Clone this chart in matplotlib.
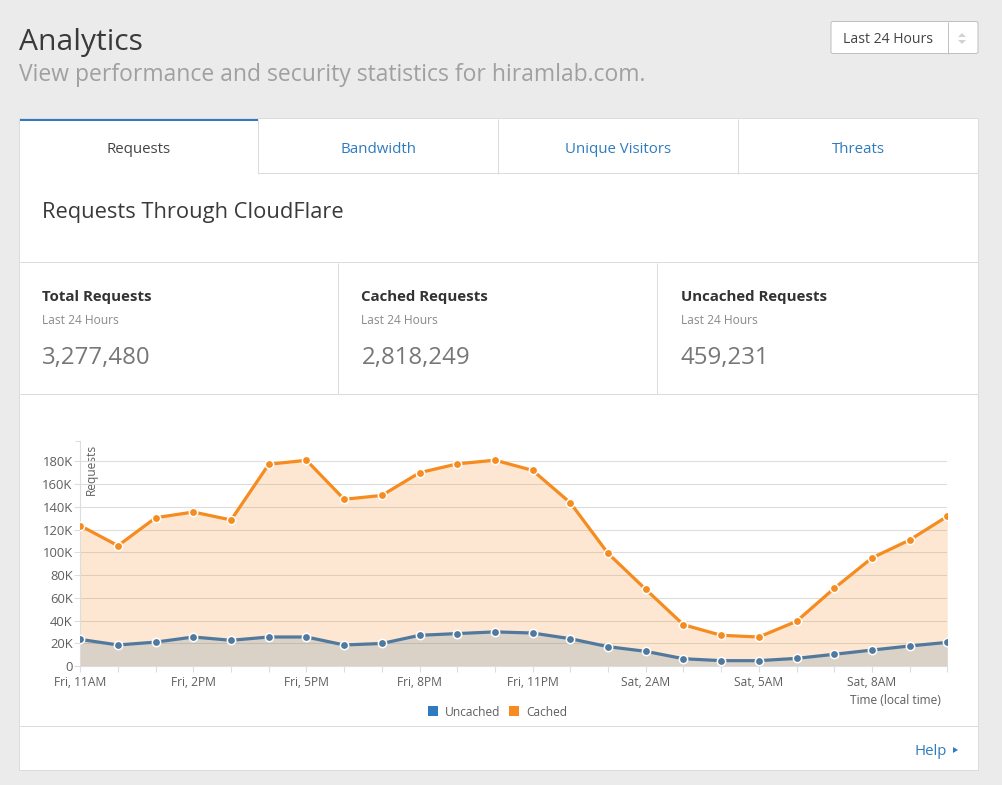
import matplotlib
matplotlib.use("Agg")
import matplotlib.pyplot as plt
from matplotlib.patches import Rectangle, Polygon, FancyBboxPatch

plt.rcParams['font.family'] = ['Open Sans', 'DejaVu Sans']

hours = list(range(24))
cached = [123.4, 105.8, 130.4, 135.4, 128.4, 177.4, 180.9, 146.6, 150, 170, 177.7, 181,
          172, 143.5, 99, 67.4, 36.3, 27, 25.5, 39.3, 68.3, 95, 110.8, 131.6]
uncached = [23.4, 18.5, 21, 25.5, 22.6, 25.5, 25.5, 18.5, 19.8, 27, 28.5, 30,
            29, 24, 17, 12.9, 6.4, 4.7, 4.7, 6.7, 10.3, 14, 17.6, 20.8]
y_ticks = [0, 20, 40, 60, 80, 100, 120, 140, 160, 180]
y_labels = ['0', '20K', '40K', '60K', '80K', '100K', '120K', '140K', '160K', '180K']
x_label_hours = [0, 3, 6, 9, 12, 15, 18, 21]
x_labels = ['Fri, 11AM', 'Fri, 2PM', 'Fri, 5PM', 'Fri, 8PM', 'Fri, 11PM', 'Sat, 2AM', 'Sat, 5AM', 'Sat, 8AM']
tabs = ['Requests', 'Bandwidth', 'Unique Visitors', 'Threats']
stat_titles = ['Total Requests', 'Cached Requests', 'Uncached Requests']
stat_values = ['3,277,480', '2,818,249', '459,231']

W, H = 1002, 785
BG = '#ebebeb'; LINE = '#dcdcdc'; BLUE = '#2f7bbf'; ORANGE = '#f68b1f'; STEEL = '#51799e'
DARK = '#333333'; MID = '#5f5f5f'; GREY = '#8a8a8a'
px = 0.72

fig = plt.figure(figsize=(W / 100, H / 100), dpi=100, facecolor=BG)
bg = fig.add_axes([0, 0, 1, 1])
bg.set_xlim(0, W); bg.set_ylim(H, 0); bg.axis('off')

def rect(x0, y0, x1, y1, fc='white', ec='none', lw=0, z=1):
    bg.add_patch(Rectangle((x0, y0), x1 - x0, y1 - y0, fc=fc, ec=ec, lw=lw, zorder=z))

def hline(y, x0, x1, c=LINE):
    bg.plot([x0, x1], [y, y], color=c, lw=px, zorder=2, solid_capstyle='butt')

def vline(x, y0, y1, c=LINE):
    bg.plot([x, x], [y0, y1], color=c, lw=px, zorder=2, solid_capstyle='butt')

def txt(x, y, s, size, color=DARK, ha='left', **kw):
    bg.text(x, y, s, fontsize=size * px, color=color, ha=ha, va='center', zorder=3, **kw)

# header
txt(19, 42.5, 'Analytics', 30, '#3a3a3a')
txt(19, 75, 'View performance and security statistics for hiramlab.com.', 22.9, '#a0a0a0')
bg.add_patch(FancyBboxPatch((831, 21.5), 147, 32, boxstyle='round,pad=0,rounding_size=2',
                            fc='white', ec='#c0c0c0', lw=px, zorder=1))
vline(948.5, 22, 53.5, '#c0c0c0')
txt(843, 39.5, 'Last 24 Hours', 14, '#444444')
bg.add_patch(Polygon([[958, 37], [966, 37], [962, 33]], fc='#d2d2d2', ec='none', zorder=3))
bg.add_patch(Polygon([[958, 40], [966, 40], [962, 44]], fc='#d2d2d2', ec='none', zorder=3))

# card
rect(19.5, 118, 978.5, 770, fc='white', ec=LINE, lw=px)
rect(20, 119, 258.5, 121, fc=BLUE, z=3)
hline(172.9, 258.5, 978)
for xv in (258.5, 498.5, 738.5):
    vline(xv, 119, 173.5)
tab_x = [139, 378.5, 618.5, 858]
for i, (tx, lab) in enumerate(zip(tab_x, tabs)):
    txt(tx, 149.5, lab, 15, '#444444' if i == 0 else BLUE, ha='center')
txt(42, 212.5, 'Requests Through CloudFlare', 21.85, '#3a3a3a')
hline(261.9, 20, 978)
hline(393.9, 20, 978)
vline(338.5, 262.5, 394)
vline(657.5, 262.5, 394)
for sx, t, v in zip((42, 361.5, 681), stat_titles, stat_values):
    txt(sx, 297.5, t, 15, DARK, fontweight='bold')
    txt(sx, 320.5, 'Last 24 Hours', 12, GREY)
    txt(sx, 358, v, 24, '#777777')
hline(725.9, 20, 978)
txt(915, 751.5, 'Help', 15, BLUE)
bg.add_patch(Polygon([[953, 747], [953, 753], [958, 750]], fc=BLUE, ec='none', zorder=3))

# chart
left, right, y0px, toppx = 80.3, 947.3, 666.0, 441.0
ymax = (y0px - toppx) / (204.7 / 180)
ax = fig.add_axes([left / W, 1 - y0px / H, (right - left) / W, (y0px - toppx) / H])
ax.patch.set_alpha(0)
ax.set_xlim(0, 23)
ax.set_ylim(0, ymax)
ax.grid(True, axis='y', color='#dddddd', lw=0.8, zorder=0)
ax.set_axisbelow(True)
ax.fill_between(hours, cached, color=ORANGE, alpha=0.2, lw=0, zorder=1)
ax.fill_between(hours, uncached, color=STEEL, alpha=0.2, lw=0, zorder=1.1)
for vals, col in ((uncached, STEEL), (cached, ORANGE)):
    ax.plot(hours, vals, color=col, lw=2.3, zorder=3, marker='o', ms=6, mfc=col, mec='white', mew=1.1)
for s in ('top', 'right'):
    ax.spines[s].set_visible(False)
for s in ('left', 'bottom'):
    ax.spines[s].set_color('#dddddd'); ax.spines[s].set_linewidth(0.8)
ax.set_yticks(y_ticks, y_labels)
ax.set_yticks([ymax], minor=True)
ax.set_xticks(x_label_hours, x_labels)
ax.set_xticks(hours, minor=True)
ax.tick_params(axis='y', length=4.5, width=0.8, color='#dddddd', labelsize=13 * px, labelcolor=MID, pad=1)
ax.tick_params(axis='y', which='minor', length=3.5, width=0.8, color='#dddddd')
ax.tick_params(axis='x', which='major', length=4, width=0.8, color='#dddddd', labelsize=12 * px, labelcolor=MID, pad=3)
ax.tick_params(axis='x', which='minor', length=4, width=0.8, color='#dddddd')

txt(91, 469, 'Requests', 12, MID, ha='center', rotation=90)
txt(941, 700, 'Time (local time)', 12, MID, ha='right')
rect(428, 706, 438, 716, fc=BLUE, z=3)
txt(445, 712, 'Uncached', 12, MID)
rect(509, 706, 519, 716, fc=ORANGE, z=3)
txt(526, 712, 'Cached', 12, MID)

fig.savefig('out.png', dpi=100, facecolor=BG)
